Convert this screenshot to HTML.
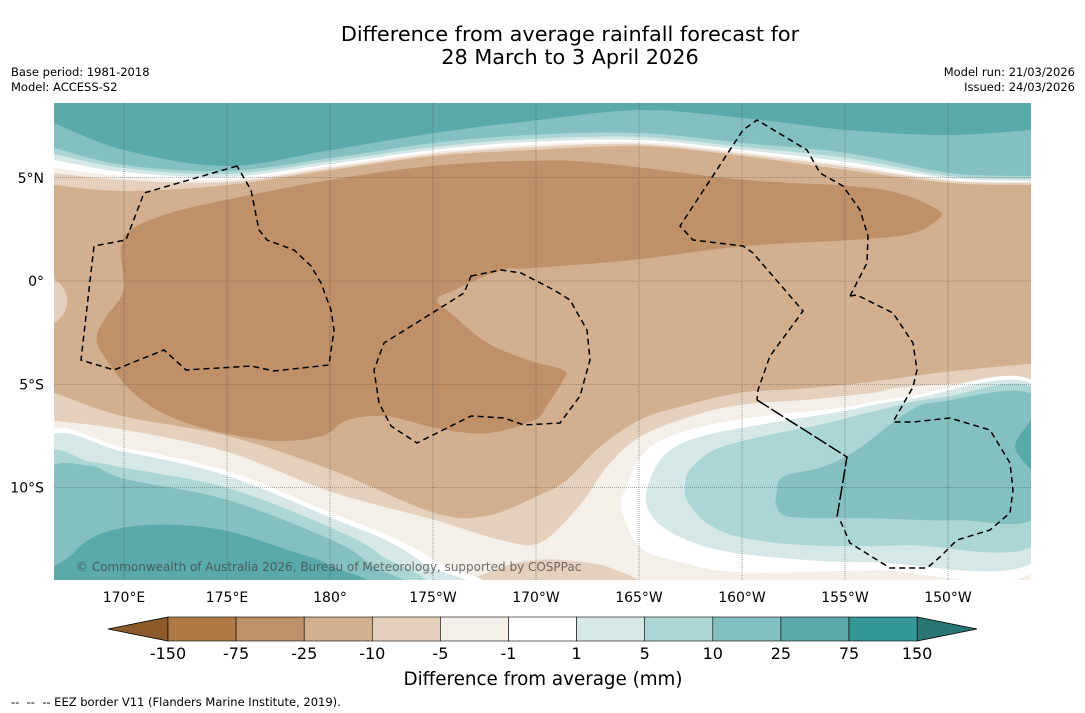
<!DOCTYPE html>
<html><head><meta charset="utf-8"><style>
body{margin:0;background:#fff;width:1085px;height:713px;overflow:hidden;font-family:"Liberation Sans","DejaVu Sans",sans-serif}
svg{display:block}
</style></head><body>
<svg id="s" width="1085" height="713" xmlns="http://www.w3.org/2000/svg">
<text x="570" y="41" font-size="20.8" text-anchor="middle" font-family="DejaVu Sans, sans-serif">Difference from average rainfall forecast for</text>
<text x="570" y="64" font-size="20.8" text-anchor="middle" font-family="DejaVu Sans, sans-serif">28 March to 3 April 2026</text>
<text x="11" y="76" font-size="11.5" font-family="DejaVu Sans, sans-serif">Base period: 1981-2018</text>
<text x="11" y="91" font-size="11.5" font-family="DejaVu Sans, sans-serif">Model: ACCESS-S2</text>
<text x="1075" y="76" font-size="11.5" text-anchor="end" font-family="DejaVu Sans, sans-serif">Model run: 21/03/2026</text>
<text x="1075" y="91" font-size="11.5" text-anchor="end" font-family="DejaVu Sans, sans-serif">Issued: 24/03/2026</text>
<g id="map"></g>
<g id="axes"></g>
<g id="cbar"></g>
<text x="543" y="685" font-size="18.3" text-anchor="middle" font-family="DejaVu Sans, sans-serif">Difference from average (mm)</text>
<text x="11" y="706" font-size="11.5" font-family="DejaVu Sans, sans-serif" style="white-space:pre" xml:space="preserve">--  --  -- EEZ border V11 (Flanders Marine Institute, 2019).</text>
</svg>
<script>
const levelLabels=["-150","-75","-25","-10","-5","-1","1","5","10","25","75","150"];
const levelColors=["#ad7a45","#c09169","#d2b08f","#e4d0bd","#f4efe8","#ffffff","#d5e8e7","#acd6d5","#83c0bf","#5aaaa9","#359896"];
const extendColors=["#8c5a2b","#2a7675"];
const lonTicks=[170,175,180,-175,-170,-165,-160,-155,-150];
const lonLabels=["170°E","175°E","180°","175°W","170°W","165°W","160°W","155°W","150°W"];
const latTicks=[5,0,-5,-10];
const latLabels=["5°N","0°","5°S","10°S"];
const NS="http://www.w3.org/2000/svg";
const X0=54,X1=1031,Y0=103,Y1=580;
function lonX(l){let e=l<0?l+360:l;return 124+(e-170)*20.6;}
function latY(l){return 281-l*20.65;}
function mk(t,a,p){const e=document.createElementNS(NS,t);for(const k in a)e.setAttribute(k,a[k]);p.appendChild(e);return e;}
const map=document.getElementById('map');
mk('clipPath',{id:'mc'},map).appendChild(document.createElementNS(NS,'rect'));
const cr=map.querySelector('clipPath rect');cr.setAttribute('x',X0);cr.setAttribute('y',Y0);cr.setAttribute('width',X1-X0);cr.setAttribute('height',Y1-Y0);
const g=mk('g',{'clip-path':'url(#mc)'},map);
function smooth(pts,closed){
 let d='M'+pts[0][0]+','+pts[0][1];const n=pts.length;
 for(let i=0;i<n-1+(closed?1:0);i++){
  const p0=pts[(i-1+n)%n],p1=pts[i],p2=pts[(i+1)%n],p3=pts[(i+2)%n];
  const a=(!closed&&i==0)?p1:p0,b=(!closed&&i+2>=n)?p2:p3;
  d+=' C'+(p1[0]+(p2[0]-a[0])/6)+','+(p1[1]+(p2[1]-a[1])/6)+' '+(p2[0]-(b[0]-p1[0])/6)+','+(p2[1]-(b[1]-p1[1])/6)+' '+p2[0]+','+p2[1];
 }
 return d+(closed?'Z':'');
}
function fill(pts,c,name){const p=mk('path',{d:smooth(pts,true),fill:c,stroke:c,'stroke-width':0.5},g);}
const bg=mk('rect',{x:X0,y:Y0,width:X1-X0,height:Y1-Y0,fill:levelColors[2]},g);

const nx=[54,124,227,331,434,530,640,743,847,950,1031];
const north=[
 [[185,191,185,170,156,150,146,156,170,183,185],3],
 [[173,180,182,168,154,147,144,154,167,181,183],4],
 [[168,176,180,166,152,145,142,152,165,180,182],5],
 [[160,172,177,164,150,142,140,150,162,178,181],6],
 [[154,168,174,161,147,139,137,147,158,176,179],7],
 [[148,165,171,158,143,135,133,143,153,173,176],8],
 [[123,150,166,150,133,121,110,118,130,135,130],9]];
north.forEach(([ys,ci])=>{
 const pts=nx.map((x,i)=>[x,ys[i]]);
 let d=smooth(pts,false)+' L1040,'+ys[ys.length-1]+' L1040,95 L45,95 L45,'+ys[0]+'Z';
 const p=mk('path',{d:d,fill:levelColors[ci]},g);
 
});
const s10=[[54,393],[121,416],[227,436],[331,470],[434,513],[487,516],[540,495],[567,480],[600,447],[640,420],[680,407],[740,393],[800,389],[863,383],[947,372],[1031,364]];
fill(s10.concat([[1040,364],[1040,590],[45,590],[45,393]]),levelColors[3],'south-band-minus10');
fill([[54,421],[124,430],[227,452],[331,492],[434,520],[500,540],[540,543],[580,505],[607,467],[640,437],[690,417],[740,405],[807,400],[873,393],[907,387],[1031,380],[1040,380],[1040,590],[45,590],[45,421]],levelColors[4],'south-band-minus5');
fill([[480,585],[500,568],[540,560],[580,562],[610,568],[632,585]],levelColors[3],'south-center-blob');
fill([[1040,387],[907,397],[840,408],[757,417],[690,430],[647,450],[625,490],[623,513],[640,547],[673,560],[740,572],[873,570],[1040,567]],levelColors[5],'se-white');
fill([[1040,390],[907,400],[840,412],[760,425],[700,437],[667,453],[650,480],[647,505],[663,527],[707,547],[773,557],[873,562],[1040,557]],levelColors[6],'se-band-1to5');
fill([[1040,394],[940,398],[880,410],[820,425],[760,437],[715,450],[690,470],[685,490],[690,505],[707,523],[740,537],[807,545],[907,545],[1040,540]],levelColors[7],'se-band-5to10');
fill([[1040,399],[940,402],[907,413],[857,450],[823,467],[783,477],[777,493],[777,507],[793,517],[873,518],[957,520],[1040,513]],levelColors[8],'se-band-10to25');
fill([[1040,418],[1024,430],[1016,450],[1040,472]],levelColors[9],'se-band-25to75');
fill([[45,437],[124,448],[227,471],[331,513],[387,535],[437,562],[460,590],[45,590]],levelColors[5],'sw-white');
fill([[45,442],[124,452],[227,476],[331,518],[387,541],[425,565],[447,590],[45,590]],levelColors[6],'sw-band-1to5');
fill([[45,459],[90,462],[124,468],[227,488],[331,528],[380,555],[405,590],[45,590]],levelColors[7],'sw-band-5to10');
fill([[45,476],[90,466],[124,479],[227,500],[331,540],[370,565],[385,590],[45,590]],levelColors[8],'sw-band-10to25');
fill([[58,590],[74,553],[104,533],[154,525],[221,530],[287,550],[331,566],[356,590]],levelColors[9],'sw-band-25to75');
fill([[121,250],[131,230],[171,213],[227,200],[331,180],[434,166],[530,161],[597,163],[743,180],[847,186],[897,193],[938,210],[937,220],[913,233],[863,239],[743,246],[630,260],[530,268],[501,270],[454,290],[437,300],[454,316],[487,343],[530,361],[563,370],[563,380],[547,405],[534,420],[487,433],[437,428],[387,416],[347,420],[321,436],[267,440],[187,423],[137,396],[104,356],[97,336],[107,316],[124,290]],levelColors[1],'dry-core-region');
fill([[48,280],[60,284],[67,300],[62,316],[48,322]],levelColors[3],'west-edge-blob');
const ax=document.getElementById('axes');
lonTicks.forEach((l,i)=>{const x=lonX(l);
 const ln=mk('line',{x1:x,x2:x,y1:Y0,y2:Y1,stroke:'#444','stroke-width':0.6,'stroke-dasharray':'1,1',opacity:0.8},ax);
 
 const t=mk('text',{x:x,y:602,'font-size':14,'text-anchor':'middle','font-family':'DejaVu Sans, sans-serif'},ax);t.textContent=lonLabels[i];
 });
latTicks.forEach((l,i)=>{const y=latY(l);
 const ln=mk('line',{x1:X0,x2:X1,y1:y,y2:y,stroke:'#444','stroke-width':0.6,'stroke-dasharray':'1,1',opacity:0.8},ax);
 
 const t=mk('text',{x:44,y:y+5,'font-size':14,'text-anchor':'end','font-family':'DejaVu Sans, sans-serif'},ax);t.textContent=latLabels[i];
 });
function eez(pts,closed,dash){const p=mk('path',{d:'M'+pts.map(q=>q.join(',')).join(' L')+(closed?'Z':''),fill:'none',stroke:'#000','stroke-width':1.5,'stroke-dasharray':dash||'6,4'},ax);
 }
eez([[237,166],[144,193],[126,240],[94,246],[81,360],[114,370],[164,350],[186,370],[251,366],[274,371],[329,365],[334,330],[331,310],[321,283],[311,266],[294,250],[267,240],[259,230],[251,190]],true);
eez([[471,276],[501,270],[521,273],[554,290],[570,300],[587,330],[590,360],[580,396],[560,423],[524,425],[504,418],[471,416],[417,443],[391,426],[379,403],[374,370],[384,343],[437,310],[464,293]],true);
eez([[850,296],[867,263],[868,236],[860,210],[843,186],[820,173],[807,150],[757,120],[743,130],[680,226],[693,240],[743,246],[753,253],[803,311],[770,356],[758,390],[757,400]],false);
eez([[757,400],[847,457],[837,517]],false,'14,3');
eez([[850,296],[857,295],[893,313],[913,343],[917,370],[913,387],[893,422],[913,422],[950,418],[990,430],[1010,463],[1013,490],[1010,513],[990,530],[957,540],[940,557],[927,568],[890,568],[850,543],[840,520]],false);
const cp=mk('text',{x:76,y:571,'font-size':12,fill:'#444',opacity:0.75,'font-family':'DejaVu Sans, sans-serif'},ax);
cp.textContent='© Commonwealth of Australia 2026, Bureau of Meteorology, supported by COSPPac';

const cb=document.getElementById('cbar');
const cbx0=168,cbw=68.1,cby=617,cbh=24;
function cbX(i){return cbx0+i*cbw;}
const lt=mk('path',{d:`M${cbX(0)},${cby} L108,${cby+cbh/2} L${cbX(0)},${cby+cbh}Z`,fill:extendColors[0],stroke:'#000','stroke-width':0.8},cb);

const n=levelColors.length;
const rt=mk('path',{d:`M${cbX(n)},${cby} L977,${cby+cbh/2} L${cbX(n)},${cby+cbh}Z`,fill:extendColors[1],stroke:'#000','stroke-width':0.8},cb);

levelColors.forEach((c,i)=>{const r=mk('rect',{x:cbX(i),y:cby,width:cbw,height:cbh,fill:c,stroke:'#000','stroke-width':0.6},cb);
 });
levelLabels.forEach((l,i)=>{const t=mk('text',{x:cbX(i),y:659,'font-size':16,'text-anchor':'middle','font-family':'DejaVu Sans, sans-serif'},cb);t.textContent=l;
 });
</script>
</body></html>
